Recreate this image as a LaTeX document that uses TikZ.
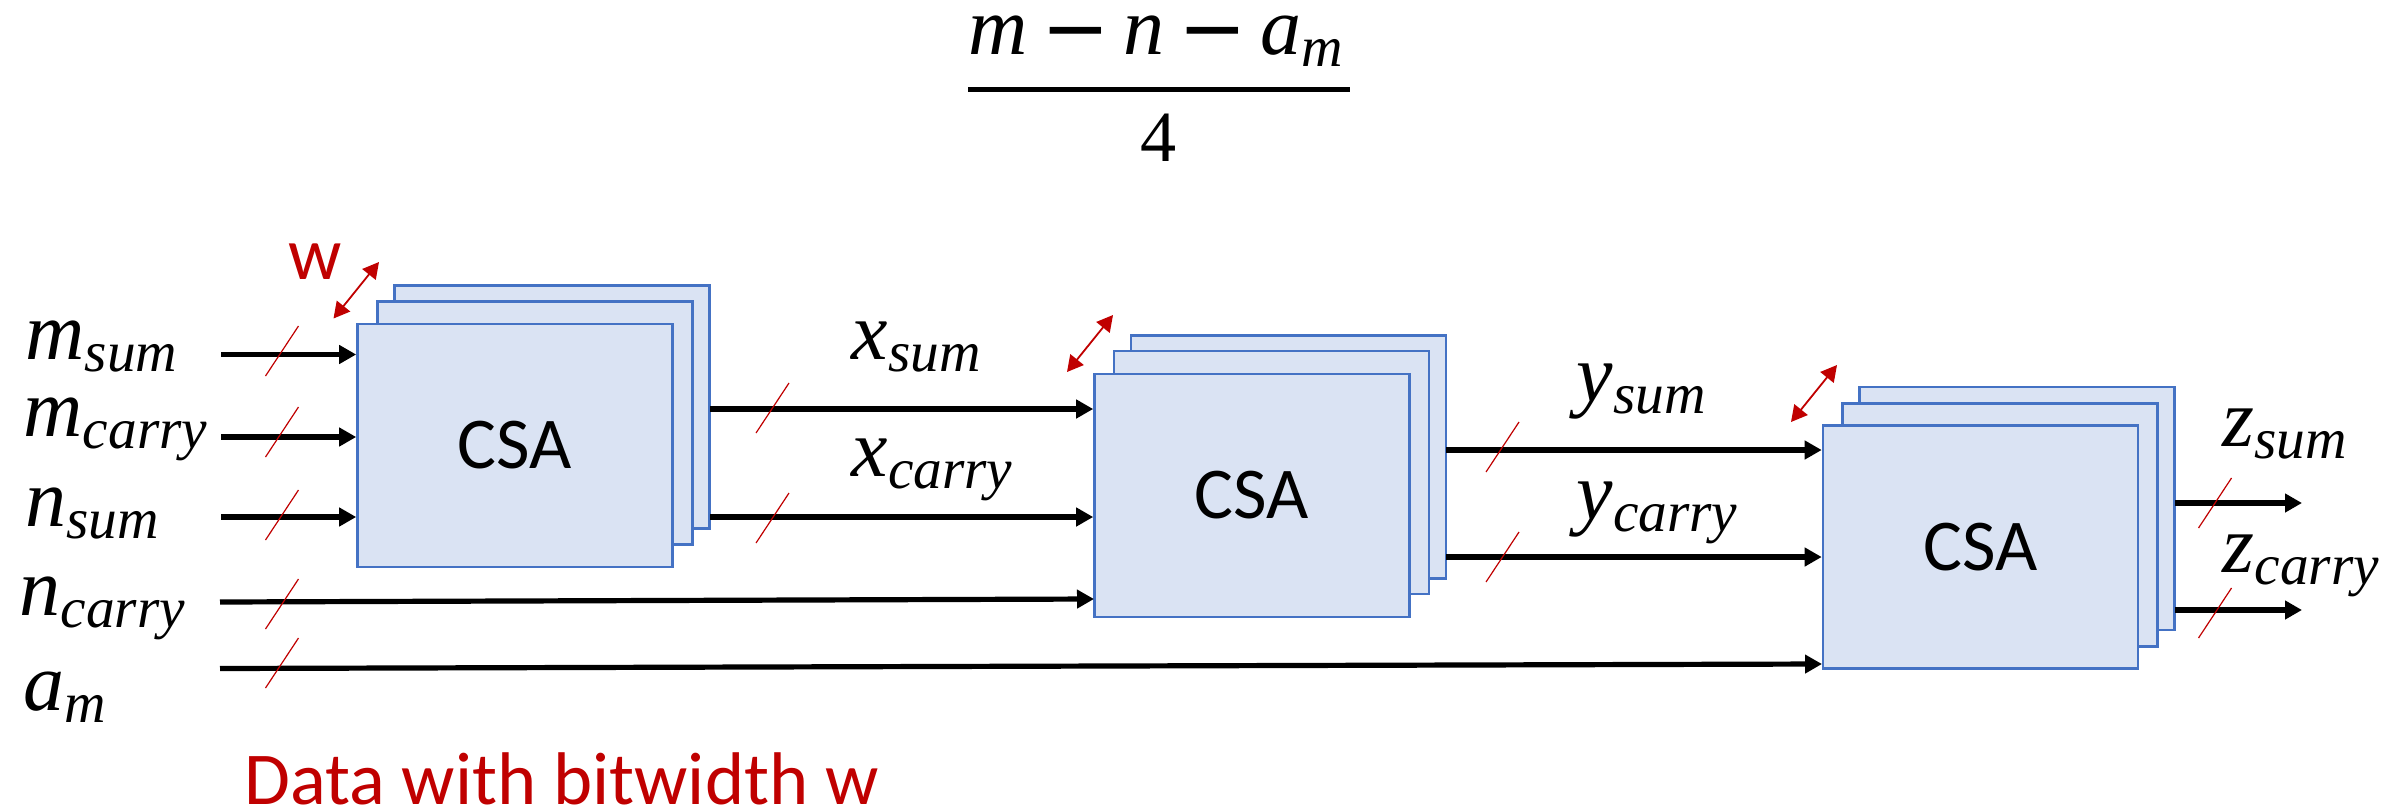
\documentclass[tikz,border=0pt]{standalone}
\usepackage[no-math]{fontspec}
\setmainfont{Carlito}
\newfontfamily\sigfont{Liberation Serif}
\newfontfamily\minusfont{DejaVu Sans}
\usepackage{amsmath}
\usetikzlibrary{arrows.meta}

\newcommand{\mv}[1]{\smash[b]{\text{\sigfont\itshape #1}}}
\newcommand{\mminus}{\mathbin{\raisebox{-0.03em}{\minusfont\char"2212}}}

\tikzset{
  csabox/.style={draw=csaline, fill=csafill, line width=1.3pt, minimum width=157.5pt, minimum height=121.5pt, inner sep=0pt, font=\fontsize{36.5}{40}\selectfont},
  sig/.style={-{Triangle[length=8.5pt,width=9pt]}, line width=2.6pt},
  tick/.style={draw=csared, line width=0.6pt},
  span/.style={{Triangle[length=8pt,width=8.5pt]}-{Triangle[length=8pt,width=8.5pt]}, draw=csared, fill=csared, line width=0.9pt},
  lab/.style={anchor=base west, inner sep=0pt, scale=4.1},
  redlab/.style={anchor=base west, inner sep=0pt, text=csared, font=\fontsize{37.3}{40}\selectfont}
}
\definecolor{csaline}{HTML}{4472C4}
\definecolor{csafill}{HTML}{DAE3F3}
\definecolor{csared}{HTML}{C00000}

\begin{document}
\begin{tikzpicture}[x=0.5pt,y=-0.5pt]

\useasboundingbox (0,0) rectangle (2397,809);

\node (num) [lab, anchor=base] at (1158,54) {\(\medmuskip=3mu \mv{m}\mminus\mv{n}\mminus\mv{a}_{\mv{m}}\)};
\node (den) [lab, anchor=base, scale=0.88] at (1159,161) {\sigfont 4};
\coordinate (barl) at (968,89);
\coordinate (barr) at (1350,89);
\draw[line width=2.5pt] (barl) -- (barr);

\node (msum) [lab] at (24,359) {\(\mv{m}_{\mv{sum}}\)};
\node (mcarry) [lab] at (22,436) {\(\mv{m}_{\mv{carry}}\)};
\node (nsum) [lab] at (24,526) {\(\mv{n}_{\mv{sum}}\)};
\node (ncarry) [lab] at (18,615) {\(\mv{n}_{\mv{carry}}\)};
\node (am) [lab] at (22,710) {\(\mv{a}_{\mv{m}}\)};

\node (a3) [csabox] at (552,407) {};
\node (a2) [csabox] at (535,423) {};
\node (a1) [csabox] at (515,445.5) {CSA};

\node (b3) [csabox] at (1288.5,457) {};
\node (b2) [csabox] at (1271.5,472.5) {};
\node (b1) [csabox] at (1252,495.5) {CSA};

\node (c3) [csabox] at (2017,508.5) {};
\node (c2) [csabox] at (2000,525) {};
\node (c1) [csabox] at (1980.5,547) {CSA};

\node (xsum) [lab] at (850,359) {\(\mv{x}_{\mv{sum}}\)};
\node (xcarry) [lab] at (850,476) {\(\mv{x}_{\mv{carry}}\)};
\node (ysum) [lab] at (1575,401) {\(\mv{y}_{\mv{sum}}\)};
\node (ycarry) [lab] at (1575,519) {\(\mv{y}_{\mv{carry}}\)};
\node (zsum) [lab] at (2221,446) {\(\mv{z}_{\mv{sum}}\)};
\node (zcarry) [lab] at (2221,572) {\(\mv{z}_{\mv{carry}}\)};

\node (wlab) [redlab] at (288,279) {w};
\node (note) [redlab] at (244,804) {Data with bitwidth w};

\coordinate (inms) at (221,354.5);
\coordinate (inmc) at (221,437);
\coordinate (inns) at (221,517);
\coordinate (innc) at (220,602);
\coordinate (inam) at (220,668.5);
\coordinate (xs) at (710,409);
\coordinate (xc) at (710,517);
\coordinate (ys) at (1446,450);
\coordinate (yc) at (1446,557);
\coordinate (zs) at (2175,503);
\coordinate (zc) at (2175,610);
\coordinate (zsend) at (2302,503);
\coordinate (zcend) at (2302,610);

\draw[sig] (inms) -- (inms -| a1.west);
\draw[sig] (inmc) -- (inmc -| a1.west);
\draw[sig] (inns) -- (inns -| a1.west);
\draw[sig] (xs) -- (xs -| b1.west);
\draw[sig] (xc) -- (xc -| b1.west);
\draw[sig] (innc) -- (1094,599);
\draw[sig] (ys) -- (ys -| c1.west);
\draw[sig] (yc) -- (yc -| c1.west);
\draw[sig] (inam) -- (1822,664);
\draw[sig] (zs) -- (zsend);
\draw[sig] (zc) -- (zcend);

\draw[tick] (265.5,376) -- ++(33,-50);
\draw[tick] (265.5,457) -- ++(33,-50);
\draw[tick] (265.5,540) -- ++(33,-50);
\draw[tick] (265.5,629) -- ++(33,-50);
\draw[tick] (265.5,688) -- ++(33,-50);
\draw[tick] (756,433) -- ++(33,-50);
\draw[tick] (756,543) -- ++(33,-50);
\draw[tick] (1486,472) -- ++(33,-50);
\draw[tick] (1486,582) -- ++(33,-50);
\draw[tick] (2198.5,528) -- ++(33,-50);
\draw[tick] (2198.5,638) -- ++(33,-50);

\draw[span] (333.5,318.5) -- (379,262);
\draw[span] (1067,372) -- (1113,315);
\draw[span] (1791,422) -- (1837,365);

\end{tikzpicture}
\end{document}
